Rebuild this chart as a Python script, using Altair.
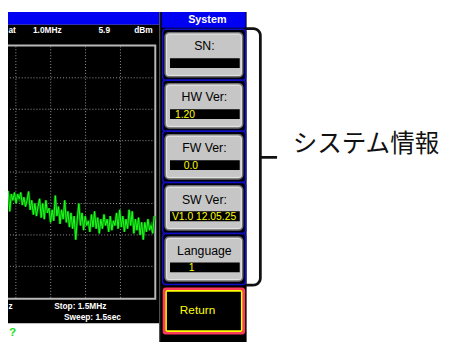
import altair as alt
import pandas as pd
import numpy as np

# ---------------- data ----------------
header_labels = ["at", "1.0MHz", "5.9", "dBm"]
footer_labels = ["z", "Stop: 1.5MHz", "Sweep: 1.5sec"]
menu_title = "System"
button_labels = ["SN:", "HW   Ver:", "FW   Ver:", "SW   Ver:", "Language"]
button_values = ["", "1.20", "0.0", "V1.0 12.05.25", "1"]
return_label = "Return"
callout_label = "システム情報"
status_mark = "?"

freq_start, freq_stop = 0.5, 1.5      # MHz across 10 divisions
ref_level, db_per_div = 0.0, 10.0     # dBm at top graticule line
trace_dbm = [
    -46.5, -51, -46, -52.5, -47,
    -49, -46.5, -50, -47, -48.5, -46.5,
    -50.5, -48, -51, -49,
    -46.2,
    -52, -49, -53.5, -50, -54, -51,
    -48.5, -54.5, -50, -55, -49, -53,
    -51.5, -56, -52, -55.5,
    -47.5,
    -54, -51, -56.5, -52, -55,
    -49,
    -56, -52.5, -57.5, -53, -58, -54,
    -61.5,
    -55, -50,
    -57, -53, -58.5, -54, -57, -55.5, -59, -53.5, -57.5,
    -52.5,
    -58, -54.5, -59.5, -55, -58, -53.5, -57, -55, -59,
    -54, -58.5, -55.5, -57, -53, -58,
    -52,
    -57.5, -54, -59, -55, -58,
    -52, -57, -52.5, -59.5, -55,
    -58.5, -54.5, -60, -56, -61.5,
    -56, -59, -55, -58.5, -57, -59.5, -54,
]
trace_freq_range = [1.069, 1.497]      # visible part of the sweep, MHz

# ---------------- layout (screen pixels) ----------------
GRID_L, GRID_R, GRID_T, DIV_H = -197.0, 158.0, 44.0, 32.0
BTN_TOP0, BTN_STEP, BTN_H = 30, 52, 45
BTN_X0, BTN_X1 = 168, 247
CELL_X0, CELL_X1 = 165.5, 250
FIELD_X0, FIELD_X1 = 173, 244
VALUE_X = [0, 178, 187, 175, 192]
EDGE_X = 8.5
UI_FONT = "Liberation Sans"

XS = alt.Scale(domain=[8, 451], nice=False, zero=False)
YS = alt.Scale(domain=[8, 345], nice=False, zero=False, reverse=True)


def X(f="x"):
    return alt.X(f"{f}:Q", scale=XS, axis=None)


def Y(f="y"):
    return alt.Y(f"{f}:Q", scale=YS, axis=None)


def rects(rows, **mk):
    df = pd.DataFrame(rows, columns=["x", "x2", "y", "y2"])
    return alt.Chart(df).mark_rect(**mk).encode(
        x=X("x"), x2=alt.X2("x2"), y=Y("y"), y2=alt.Y2("y2"))


def texts(rows, **mk):
    df = pd.DataFrame(rows, columns=["x", "y", "t"])
    return alt.Chart(df).mark_text(**mk).encode(x=X("x"), y=Y("y"), text="t:N")


def fx(f):
    return GRID_L + (f - freq_start) / (freq_stop - freq_start) * (GRID_R - GRID_L)


def dy(db):
    return GRID_T + (ref_level - db) / db_per_div * DIV_H


layers = []
# screen backgrounds
layers.append(rects([[0, 162, 9, 22]], fill="#0000f2", stroke=None))
layers.append(rects([[0, 162, 22, 326]], fill="#000000"))
layers.append(rects([[162, 251, 9, 345]], fill="#000000"))
layers.append(alt.Chart(pd.DataFrame({"x": [162.5], "y": [9], "y2": [345]}))
              .mark_rule(color="#5a5a5a", strokeWidth=1)
              .encode(x=X("x"), y=Y("y"), y2=alt.Y2("y2")))
# graticule frame
layers.append(rects([[-5, GRID_R, GRID_T - 1, GRID_T + 8 * DIV_H + 1]],
                    fill="#000000", stroke="#b8b8b8", strokeWidth=2))
vlines = pd.DataFrame({"x": [fx(freq_start + 0.1 * k) for k in range(1, 10)],
                       "y": GRID_T, "y2": GRID_T + 8 * DIV_H})
layers.append(alt.Chart(vlines).mark_rule(color="#9a9a9a", strokeWidth=1, strokeDash=[1, 2])
              .encode(x=X("x"), y=Y("y"), y2=alt.Y2("y2")))
hlines = pd.DataFrame({"y": [GRID_T + k * DIV_H for k in range(1, 8)],
                       "x": -5, "x2": GRID_R})
layers.append(alt.Chart(hlines).mark_rule(color="#9a9a9a", strokeWidth=1, strokeDash=[1, 2])
              .encode(y=Y("y"), x=X("x"), x2=alt.X2("x2")))
# trace
freqs = np.linspace(trace_freq_range[0], trace_freq_range[1], len(trace_dbm))
tr = pd.DataFrame({"x": [fx(f) for f in freqs], "y": [dy(v) for v in trace_dbm],
                   "i": range(len(trace_dbm))})
layers.append(alt.Chart(tr).mark_line(color="#007a00", strokeWidth=2.6)
              .encode(x=X("x"), y=Y("y"), order="i:Q"))
layers.append(alt.Chart(tr).mark_line(color="#22ff22", strokeWidth=1)
              .encode(x=X("x"), y=Y("y"), order="i:Q"))
# header / footer text
layers.append(texts([[EDGE_X, 27, header_labels[0]]],
                    color="white", font=UI_FONT, fontSize=8.5, fontWeight="bold",
                    align="left", baseline="middle"))
layers.append(texts([[48, 27, header_labels[1]], [106, 27, header_labels[2]],
                     [146, 27, header_labels[3]]],
                    color="white", font=UI_FONT, fontSize=8.5, fontWeight="bold",
                    align="center", baseline="middle"))
layers.append(texts([[EDGE_X, 308, footer_labels[0]], [55, 308, footer_labels[1]],
                     [65, 320, footer_labels[2]]],
                    color="white", font=UI_FONT, fontSize=8.5, fontWeight="bold",
                    align="left", baseline="middle"))
# menu header
layers.append(rects([[164.5, 250, 9, 25]], fill="#0000f2"))
layers.append(texts([[211, 17, menu_title]], color="white", font=UI_FONT, fontSize=11,
                    fontWeight="bold", align="center", baseline="middle"))
# buttons
tops = [BTN_TOP0 + i * BTN_STEP for i in range(len(button_labels))]
layers.append(rects([[CELL_X0, CELL_X1, t - 3.5, t + BTN_H + 3.5] for t in tops],
                    fill="#00000e", stroke="#1010c8", strokeWidth=1.5, cornerRadius=3))
layers.append(rects([[BTN_X0, BTN_X1, t, t + BTN_H] for t in tops],
                    fill="#c6c6c6", stroke="#707070", strokeWidth=1.5, cornerRadius=4))
layers.append(rects([[BTN_X0 + 1.5, BTN_X1 - 1.5, t + 1.5, t + BTN_H - 1.5] for t in tops],
                    fill="#c6c6c6", stroke="#e6e6e6", strokeWidth=1, cornerRadius=3))
layers.append(rects([[FIELD_X0, FIELD_X1, t + 26, t + 36] for t in tops], fill="#000000"))
layers.append(texts([[208, t + 14, lab] for t, lab in zip(tops, button_labels)],
                    color="#000000", font=UI_FONT, fontSize=12.5, align="center",
                    baseline="middle"))
layers.append(texts([[vx, t + 31.5, v] for t, v, vx in zip(tops, button_values, VALUE_X) if v],
                    color="#ffff00", font=UI_FONT, fontSize=10.5, align="left",
                    baseline="middle"))
# return button
layers.append(rects([[167, 248, 291, 336]], fill="#000000", stroke="#ff3a5a", strokeWidth=3,
                    cornerRadius=2))
layers.append(rects([[169, 246, 293, 334]], fill="#000000", stroke="#ffff00", strokeWidth=1.6,
                    cornerRadius=1))
layers.append(texts([[201, 313, return_label]], color="#ffff00", font=UI_FONT, fontSize=12,
                    align="center", baseline="middle"))
# bracket
r = 7.0
pts = [(250, 26)]
for t in np.linspace(0, np.pi / 2, 9):
    pts.append((258 + r * np.sin(t), 33 - r * np.cos(t)))
for t in np.linspace(np.pi / 2, np.pi, 9):
    pts.append((258 + r * np.sin(t), 280 - r * np.cos(t)))
pts.append((250, 287))
br = pd.DataFrame(pts, columns=["x", "y"])
br["i"] = range(len(br))
layers.append(alt.Chart(br).mark_line(color="#111111", strokeWidth=2.8, strokeJoin="round")
              .encode(x=X("x"), y=Y("y"), order="i:Q"))
layers.append(alt.Chart(pd.DataFrame({"x": [265], "x2": [282], "y": [157]}))
              .mark_rule(color="#111111", strokeWidth=2.8)
              .encode(x=X("x"), x2=alt.X2("x2"), y=Y("y")))
layers.append(texts([[298, 144, callout_label]], color="#111111", font="Noto Sans CJK JP",
                    fontSize=25, align="left", baseline="middle"))
layers.append(texts([[EDGE_X + 0.5, 335, status_mark]], color="#22dd22", font=UI_FONT,
                    fontSize=12, fontWeight="bold", align="left", baseline="middle"))

chart = alt.layer(*layers).properties(
    width=443, height=337, padding=0, autosize=alt.AutoSizeParams(type="none")
).configure_view(stroke=None)

chart.save("out.html", embed_options={"renderer": "svg", "actions": False})
